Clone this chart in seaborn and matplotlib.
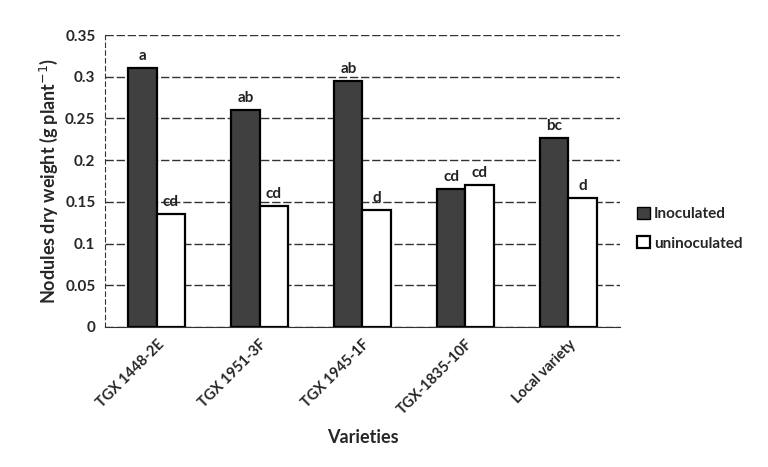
import seaborn as sns
import pandas as pd
import matplotlib.pyplot as plt
from matplotlib.patches import Patch

# values
varieties = ['TGX 1448-2E', 'TGX 1951-3F', 'TGX 1945-1F', 'TGX-1835-10F', 'Local variety']
inoculated = [0.31, 0.26, 0.295, 0.165, 0.226]
uninoculated = [0.135, 0.145, 0.14, 0.17, 0.155]
letters_inoc = ['a', 'ab', 'ab', 'cd', 'bc']
letters_uninoc = ['cd', 'cd', 'd', 'cd', 'd']
yticks = [0, 0.05, 0.1, 0.15, 0.2, 0.25, 0.3, 0.35]
ytick_labels = ['0', '0.05', '0.1', '0.15', '0.2', '0.25', '0.3', '0.35']

df = pd.DataFrame({
    'variety': varieties * 2,
    'weight': inoculated + uninoculated,
    'treatment': ['Inoculated'] * 5 + ['uninoculated'] * 5,
})

sns.set_style('white')
plt.rcParams['font.family'] = ['Lato', 'DejaVu Sans']

fig = plt.figure(figsize=(7.68, 4.67), dpi=100)
ax = fig.add_axes([0.137, 0.30, 0.67, 0.625])

colors = {'Inoculated': '#404040', 'uninoculated': 'white'}
sns.barplot(data=df, x='variety', y='weight', hue='treatment', palette=colors,
            width=0.55, edgecolor='black', linewidth=1.6, legend=False, ax=ax, zorder=3)

# significance letters
for cont, letters in zip(ax.containers, [letters_inoc, letters_uninoc]):
    for bar, lab in zip(cont, letters):
        ax.text(bar.get_x() + bar.get_width() / 2, bar.get_height() + 0.006, lab,
                ha='center', va='bottom', fontsize=11, fontweight='bold', color='#222222')

ax.set_ylim(0, 0.35)
ax.set_yticks(yticks)
ax.set_yticklabels(ytick_labels, fontsize=11, fontweight='bold')
ax.yaxis.grid(True, linestyle=(0, (6, 2)), color='#333333', linewidth=1.0)
ax.set_axisbelow(True)
for s in ['top', 'right']:
    ax.spines[s].set_visible(False)
ax.spines['left'].set_linestyle((0, (4, 3)))
ax.spines['left'].set_color('#333333')
ax.spines['bottom'].set_color('#333333')
ax.tick_params(axis='x', length=4, direction='out')
plt.setp(ax.get_xticklabels(), rotation=45, ha='right', rotation_mode='anchor',
         fontsize=10.5, fontweight='bold')

ax.set_xlabel('Varieties', fontsize=13, fontweight='bold', labelpad=8)
ax.set_ylabel('Nodules dry weight (g plant$^{-1}$)', fontsize=13, fontweight='bold')

handles = [Patch(facecolor='#404040', edgecolor='black', label='Inoculated'),
           Patch(facecolor='white', edgecolor='black', linewidth=1.6, label='uninoculated')]
leg = fig.legend(handles=handles, loc='center left', bbox_to_anchor=(0.812, 0.51),
                 frameon=False, handlelength=0.8, handleheight=0.8, handletextpad=0.3,
                 labelspacing=1.0, prop={'weight': 'bold', 'size': 11})

fig.savefig('out.png', dpi=100)
